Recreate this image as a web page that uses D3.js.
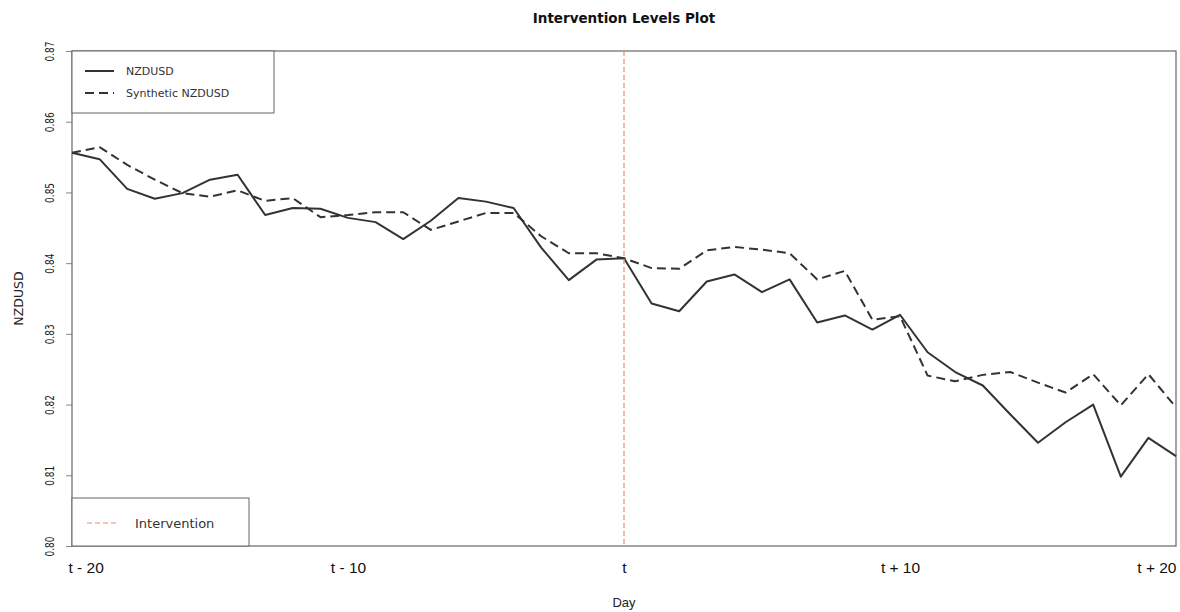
<!DOCTYPE html>
<html>
<head>
<meta charset="utf-8">
<script src="https://cdn.jsdelivr.net/npm/d3@7"></script>
<style>
  html, body { margin: 0; padding: 0; background: #fff; }
  svg { display: block; }
</style>
</head>
<body>
<div id="chart"></div>
<script>
// Day offsets around the intervention (t - 20 ... t + 20)
const days = d3.range(-20, 21);

// Observed NZDUSD closing levels
const nzdusd = [
  0.8556, 0.8547, 0.8505, 0.8491, 0.8499, 0.8518, 0.8525, 0.8468, 0.8478, 0.8477,
  0.8464, 0.8458, 0.8434, 0.8460, 0.8492, 0.8487, 0.8478, 0.8422, 0.8376, 0.8405,
  0.8407, 0.8343, 0.8332, 0.8374, 0.8384, 0.8359, 0.8377, 0.8316, 0.8326, 0.8306,
  0.8327, 0.8274, 0.8246, 0.8227, 0.8186, 0.8146, 0.8175, 0.8200, 0.8098, 0.8153,
  0.8127
];

// Synthetic control series
const synthetic = [
  0.8556, 0.8564, 0.8539, 0.8518, 0.8499, 0.8494, 0.8503, 0.8488, 0.8492, 0.8465,
  0.8468, 0.8472, 0.8472, 0.8447, 0.8459, 0.8471, 0.8471, 0.8438, 0.8414, 0.8414,
  0.8407, 0.8393, 0.8392, 0.8418, 0.8423, 0.8419, 0.8414, 0.8377, 0.8389, 0.8320,
  0.8325, 0.8241, 0.8233, 0.8242, 0.8246, 0.8231, 0.8217, 0.8243, 0.8199, 0.8243,
  0.8196
];

const yTicks = [0.80, 0.81, 0.82, 0.83, 0.84, 0.85, 0.86, 0.87];
const xTicks = [-20, -10, 0, 10, 20];
const xTickLabels = ["t - 20", "t - 10", "t", "t + 10", "t + 20"];
const interventionDay = 0;

const W = 1180, H = 612;
const plot = { left: 72, right: 1176, top: 51, bottom: 546 };

const svg = d3.select("#chart").append("svg")
  .attr("width", W).attr("height", H);

const x = d3.scaleLinear().domain([-20, 20]).range([plot.left, plot.right]);
const y = d3.scaleLinear().domain([0.80, 0.87]).range([plot.bottom, plot.top]);

const ink = "#333";
const frame = "#666";
const interventionColor = "#F4926F";

// Title
svg.append("text")
  .attr("x", (plot.left + plot.right) / 2).attr("y", 23)
  .attr("text-anchor", "middle")
  .attr("font-family", "DejaVu Sans").attr("font-weight", "bold")
  .attr("font-size", 13.5).attr("fill", "#111")
  .text("Intervention Levels Plot");

// Axis titles
svg.append("text")
  .attr("x", (plot.left + plot.right) / 2).attr("y", 607)
  .attr("text-anchor", "middle")
  .attr("font-family", "Liberation Sans").attr("font-size", 13).attr("fill", "#222")
  .text("Day");

svg.append("text")
  .attr("transform", `translate(23, ${(plot.top + plot.bottom) / 2}) rotate(-90)`)
  .attr("text-anchor", "middle")
  .attr("font-family", "DejaVu Sans").attr("font-size", 12.5).attr("fill", "#222")
  .text("NZDUSD");

// Y axis ticks and rotated labels
const yAxis = d3.axisLeft(y).tickValues(yTicks).tickSize(6).tickFormat(d3.format(".2f"));
const gy = svg.append("g").attr("transform", `translate(${plot.left},0)`).call(yAxis);
gy.select(".domain").remove();
gy.selectAll(".tick line").attr("stroke", "#888");
gy.selectAll(".tick text")
  .attr("x", null).attr("dy", null)
  .attr("transform", "translate(-23,0) rotate(-90)")
  .attr("text-anchor", "middle")
  .attr("dominant-baseline", "central")
  .attr("font-family", "DejaVu Sans").attr("font-size", 13)
  .attr("textLength", 20).attr("lengthAdjust", "spacingAndGlyphs")
  .attr("fill", "#222");

// X axis labels (no tick marks), ends kept inside the frame
const xAxis = d3.axisBottom(x).tickValues(xTicks).tickSize(0)
  .tickFormat((d, i) => xTickLabels[i]);
const gx = svg.append("g").attr("transform", `translate(0,${plot.bottom})`).call(xAxis);
gx.select(".domain").remove();
gx.selectAll(".tick text")
  .attr("y", 16)
  .attr("font-family", "Liberation Sans").attr("font-size", 15.5).attr("fill", "#111")
  .attr("text-anchor", d => d === -20 ? "start" : d === 20 ? "end" : "middle")
  .attr("dx", d => d === -20 ? -4 : 0);

// Plot frame
svg.append("rect")
  .attr("x", plot.left).attr("y", plot.top)
  .attr("width", plot.right - plot.left).attr("height", plot.bottom - plot.top)
  .attr("fill", "none").attr("stroke", frame).attr("stroke-width", 1.2);

// Series lines
const line = d3.line().x((d, i) => x(days[i])).y(d => y(d));

svg.append("path").datum(nzdusd)
  .attr("d", line).attr("fill", "none")
  .attr("stroke", ink).attr("stroke-width", 2).attr("stroke-linejoin", "round");

svg.append("path").datum(synthetic)
  .attr("d", line).attr("fill", "none")
  .attr("stroke", ink).attr("stroke-width", 2)
  .attr("stroke-dasharray", "9,5").attr("stroke-linejoin", "round");

// Intervention marker
svg.append("line")
  .attr("x1", x(interventionDay)).attr("x2", x(interventionDay))
  .attr("y1", plot.top).attr("y2", plot.bottom)
  .attr("stroke", interventionColor).attr("stroke-width", 1.3)
  .attr("stroke-dasharray", "5,3");

// Series legend (top left)
const leg1 = svg.append("g");
leg1.append("rect")
  .attr("x", plot.left).attr("y", plot.top).attr("width", 202).attr("height", 62)
  .attr("fill", "#fff").attr("stroke", frame).attr("stroke-width", 1);
const leg1Items = [
  { label: "NZDUSD", dash: null },
  { label: "Synthetic NZDUSD", dash: "9,5" }
];
leg1Items.forEach((it, i) => {
  const yy = 71 + i * 22;
  leg1.append("line")
    .attr("x1", 85).attr("x2", 114).attr("y1", yy).attr("y2", yy)
    .attr("stroke", ink).attr("stroke-width", 2)
    .attr("stroke-dasharray", it.dash);
  leg1.append("text")
    .attr("x", 126).attr("y", yy).attr("dominant-baseline", "central")
    .attr("font-family", "DejaVu Sans").attr("font-size", 11).attr("fill", "#333")
    .text(it.label);
});

// Intervention legend (bottom left)
const leg2 = svg.append("g");
leg2.append("rect")
  .attr("x", plot.left).attr("y", 498).attr("width", 177).attr("height", plot.bottom - 498)
  .attr("fill", "#fff").attr("stroke", frame).attr("stroke-width", 1);
leg2.append("line")
  .attr("x1", 87).attr("x2", 118).attr("y1", 523).attr("y2", 523)
  .attr("stroke", interventionColor).attr("stroke-opacity", 0.75).attr("stroke-width", 1.3)
  .attr("stroke-dasharray", "5,3");
leg2.append("text")
  .attr("x", 135).attr("y", 523).attr("dominant-baseline", "central")
  .attr("font-family", "DejaVu Sans").attr("font-size", 13).attr("fill", "#333")
  .text("Intervention");
</script>
</body>
</html>
